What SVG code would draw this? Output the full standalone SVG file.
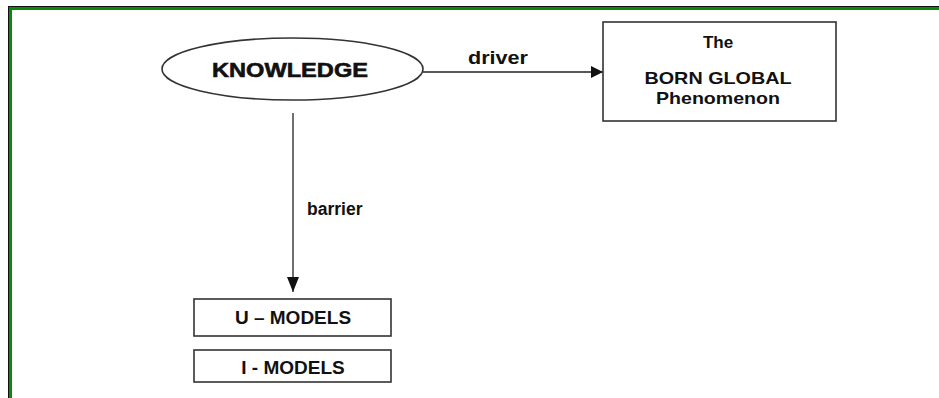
<svg xmlns="http://www.w3.org/2000/svg" width="939" height="398" viewBox="0 0 939 398">
<style>
.shape{fill:#fff;stroke:#333;stroke-width:1.6}
.conn{stroke:#222;stroke-width:1.3;fill:none}
.t{font-family:"Liberation Sans",Arial,sans-serif;font-weight:bold;fill:#111;text-anchor:middle}
.lbl{font-family:"Liberation Sans",Arial,sans-serif;font-weight:bold;fill:#111}
</style>
<defs>
<marker id="arr" markerWidth="12" markerHeight="12" refX="12" refY="6" orient="auto" markerUnits="userSpaceOnUse">
<path d="M0,0 L12,6 L0,12 Z" fill="#111"/>
</marker>
<marker id="arrV" markerWidth="15" markerHeight="12" refX="15" refY="6" orient="auto" markerUnits="userSpaceOnUse">
<path d="M0,0 L15,6 L0,12 Z" fill="#111"/>
</marker>
</defs>
<rect x="0" y="0" width="939" height="398" fill="#fff"/>
<g id="frame">
<rect x="8" y="7" width="931" height="3" fill="#0a8a0a"/>
<rect x="9" y="7" width="3" height="391" fill="#0a8a0a"/>
<rect x="8" y="6" width="931" height="1" fill="#111"/>
<rect x="8" y="6" width="1" height="392" fill="#111"/>
</g>
<g id="connectors">
<line class="conn" x1="423" y1="72" x2="603" y2="72" marker-end="url(#arr)"/>
<line class="conn" x1="293" y1="113" x2="293" y2="292" marker-end="url(#arrV)"/>
<text class="lbl" x="468" y="64" font-size="19" textLength="60" lengthAdjust="spacingAndGlyphs">driver</text>
<text class="lbl" x="307" y="215" font-size="17.5">barrier</text>
</g>
<g id="knowledge">
<ellipse class="shape" cx="292.5" cy="69" rx="130.5" ry="31"/>
<text class="t" x="290" y="77" font-size="21" stroke="#111" stroke-width="0.6" textLength="156" lengthAdjust="spacingAndGlyphs">KNOWLEDGE</text>
</g>
<g id="born-global">
<rect class="shape" x="603" y="22" width="233" height="99"/>
<text class="t" x="718" y="48" font-size="17">The</text>
<text class="t" x="718" y="84" font-size="16.5" textLength="147" lengthAdjust="spacingAndGlyphs">BORN GLOBAL</text>
<text class="t" x="718" y="104" font-size="16.5" textLength="124" lengthAdjust="spacingAndGlyphs">Phenomenon</text>
</g>
<g id="u-models">
<rect class="shape" x="194" y="299" width="197" height="37"/>
<text class="t" x="293" y="324" font-size="19">U – MODELS</text>
</g>
<g id="i-models">
<rect class="shape" x="194" y="350" width="197" height="32"/>
<text class="t" x="293" y="374" font-size="19">I - MODELS</text>
</g>
</svg>
